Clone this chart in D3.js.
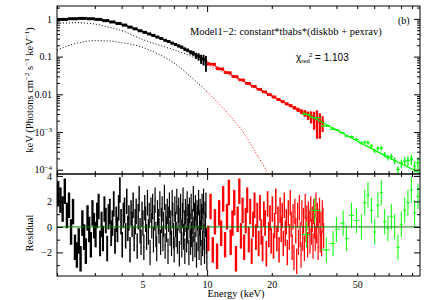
<!DOCTYPE html>
<html>
<head>
<meta charset="utf-8">
<script src="https://cdn.jsdelivr.net/npm/d3@7"></script>
<style>
  body { margin: 0; background: #fff; }
  text { font-family: "Liberation Serif", "DejaVu Serif", serif; fill: #000; }
</style>
</head>
<body>
<div id="chart"></div>
<script>
// model curves (keV, flux)
var modelE     = [2, 2.5, 3, 3.5, 4, 5, 6, 7, 8, 9, 10, 15, 20, 28, 35, 50, 70, 98];
var modelTotal = [0.94, 1.03, 1.0, 0.86, 0.72, 0.46, 0.31, 0.22, 0.152, 0.105, 0.073, 0.0213, 0.0091, 0.0033, 0.0017, 0.00058, 0.00021, 0.000082];
var modelPex   = [0.77, 0.79, 0.73, 0.6, 0.49, 0.285, 0.2, 0.152, 0.115, 0.086, 0.062, 0.0205, 0.0089, 0.00326, 0.00168, 0.00058, 0.00021, 0.000082];
var diskE      = [2, 2.5, 3, 3.5, 4, 5, 6, 7, 8, 10, 12, 15, 17, 19.5];
var diskFlux   = [0.15, 0.23, 0.265, 0.26, 0.235, 0.177, 0.113, 0.068, 0.037, 0.0117, 0.004, 0.00085, 0.00026, 0.00007];

// unfolded data (top panel)
var blkE    = [2.125, 2.375, 2.625, 2.875, 3.125, 3.375, 3.625, 3.875, 4.125, 4.375, 4.625, 4.875, 5.125, 5.375, 5.625, 5.875,
               6.125, 6.375, 6.625, 6.875, 7.125, 7.375, 7.625, 7.875, 8.125, 8.375, 8.625, 8.875, 9.125, 9.375, 9.625, 9.875];
var blkFlux = [0.97, 1.01, 1.03, 1.01, 0.97, 0.9, 0.83, 0.755, 0.685, 0.605, 0.545, 0.485, 0.44, 0.4, 0.365, 0.33,
               0.302, 0.27, 0.252, 0.228, 0.211, 0.192, 0.178, 0.158, 0.147, 0.131, 0.123, 0.107, 0.101, 0.088, 0.085, 0.072];
var blkRel  = [0.04, 0.04, 0.04, 0.04, 0.04, 0.04, 0.04, 0.04, 0.04, 0.04, 0.04, 0.05, 0.05, 0.05, 0.05, 0.05,
               0.06, 0.06, 0.06, 0.07, 0.07, 0.08, 0.09, 0.1, 0.11, 0.13, 0.15, 0.18, 0.22, 0.27, 0.32, 0.45];

var redE    = [10.5, 11.5, 12.5, 13.5, 14.5, 15.5, 16.5, 17.5, 18.5, 19.5, 20.5, 21.5, 22.5, 23.5, 24.5, 25.5,
               26.5, 27.5, 28.5, 29.5, 30.5, 31.5, 32.5, 33.5, 34.5];
var redFlux = [0.063, 0.0475, 0.0376, 0.0296, 0.0241, 0.0195, 0.0163, 0.0136, 0.0116, 0.0098, 0.0085, 0.0073, 0.0064, 0.0056, 0.0050, 0.0044,
               0.0039, 0.0035, 0.00318, 0.0028, 0.0026, 0.0023, 0.0022, 0.0019, 0.00182];
var redRel  = [0.05, 0.05, 0.05, 0.05, 0.05, 0.06, 0.06, 0.06, 0.07, 0.07, 0.08, 0.08, 0.09, 0.09, 0.1, 0.11,
               0.13, 0.15, 0.2, 0.25, 0.35, 0.5, 0.7, 0.65, 0.45];

var grnE    = [29.0, 31.7, 35.9, 38.6, 40.0, 43.0, 44.5, 47.0, 49.6, 52.3, 54.2, 56.1, 58.2, 60.3, 62.4, 64.7,
               67.1, 69.5, 72.1, 74.7, 77.4, 80.2, 83.2, 86.1, 89.3, 92.5, 95.9];
var grnFlux = [0.00292, 0.0024, 0.00144, 0.00119, 0.00113, 0.00094, 0.00078, 0.00075, 0.00063, 0.00051, 0.00054, 0.00052, 0.00043, 0.000315, 0.00037, 0.000377,
               0.000256, 0.000213, 0.000222, 0.000175, 0.000102, 0.000148, 0.000169, 0.000174, 0.00019, 0.000125, 0.000154];
var grnRel  = [0.04, 0.04, 0.05, 0.05, 0.06, 0.06, 0.07, 0.08, 0.09, 0.1, 0.1, 0.11, 0.12, 0.13, 0.14, 0.15,
               0.16, 0.17, 0.18, 0.2, 0.22, 0.24, 0.26, 0.28, 0.3, 0.33, 0.36];

// residuals (bottom panel), one row = 0.5 keV
var blkResE = [2.025, 2.075, 2.125, 2.175, 2.225, 2.275, 2.325, 2.375, 2.425, 2.475,
               2.525, 2.575, 2.625, 2.675, 2.725, 2.775, 2.825, 2.875, 2.925, 2.975,
               3.025, 3.075, 3.125, 3.175, 3.225, 3.275, 3.325, 3.375, 3.425, 3.475,
               3.525, 3.575, 3.625, 3.675, 3.725, 3.775, 3.825, 3.875, 3.925, 3.975,
               4.025, 4.075, 4.125, 4.175, 4.225, 4.275, 4.325, 4.375, 4.425, 4.475,
               4.525, 4.575, 4.625, 4.675, 4.725, 4.775, 4.825, 4.875, 4.925, 4.975,
               5.025, 5.075, 5.125, 5.175, 5.225, 5.275, 5.325, 5.375, 5.425, 5.475,
               5.525, 5.575, 5.625, 5.675, 5.725, 5.775, 5.825, 5.875, 5.925, 5.975,
               6.025, 6.075, 6.125, 6.175, 6.225, 6.275, 6.325, 6.375, 6.425, 6.475,
               6.525, 6.575, 6.625, 6.675, 6.725, 6.775, 6.825, 6.875, 6.925, 6.975,
               7.025, 7.075, 7.125, 7.175, 7.225, 7.275, 7.325, 7.375, 7.425, 7.475,
               7.525, 7.575, 7.625, 7.675, 7.725, 7.775, 7.825, 7.875, 7.925, 7.975,
               8.025, 8.075, 8.125, 8.175, 8.225, 8.275, 8.325, 8.375, 8.425, 8.475,
               8.525, 8.575, 8.625, 8.675, 8.725, 8.775, 8.825, 8.875, 8.925, 8.975,
               9.025, 9.075, 9.125, 9.175, 9.225, 9.275, 9.325, 9.375, 9.425, 9.475,
               9.525, 9.575, 9.625, 9.675, 9.725, 9.775, 9.825, 9.875, 9.925, 9.975];
var blkRes  = [2.6, 2.1, 1.4, 2.8, 0.9, 1.7, -0.4, 1.2, -1.6, -2.2,
               -1.1, -2.5, 0.3, -0.8, -1.9, 0.7, -0.2, -1.4, 1.1, 0.1,
               -0.6, 0.9, 1.6, -1.3, 0.2, -0.9, 1.4, 0.5, -1.7, 0.8,
               1.2, -0.5, 0.3, 1.8, -1.1, 0.6, -0.2, 1.5, 2.9, 0.4,
               -1.4, 0.9, 1.3, -0.7, 2.0, -0.1, 0.7, -1.8, 1.1, 0.2,
               1.7, -0.9, 0.4, 1.2, -1.5, 0.8, 2.2, -0.3, -1.2, 1.0,
               0.3, -1.6, 1.5, 0.6, -0.8, 1.9, -0.4, 0.9, -2.0, 1.3,
               0.1, 1.6, -1.0, 0.7, 2.1, -0.6, -1.7, 1.1, 0.4, -0.3,
               1.8, -1.2, 0.5, 1.4, -0.9, 0.2, 2.3, -1.5, 0.8, -0.2,
               1.2, -1.9, 0.6, 1.7, -0.5, 0.3, -1.3, 1.9, 0.9, -0.7,
               -1.8, 1.4, 0.2, -0.6, 2.0, -1.1, 0.7, 1.3, -2.1, 0.5,
               1.6, -0.4, -1.4, 0.9, 2.1, -0.8, 0.3, -1.9, 1.2, 0.6,
               -1.0, 1.8, -0.3, 0.8, -2.0, 1.3, 0.1, -1.2, 1.6, -0.6,
               0.4, -1.7, 2.2, -0.2, 0.9, -1.4, 1.5, 0.2, -2.2, 1.1,
               0.7, -0.9, 1.9, -1.6, 0.3, 1.2, -0.5, -2.0, 0.8, 1.6,
               -1.3, 0.5, 2.0, -0.8, -1.9, 1.0, 0.2, 1.7, -1.1, -2.4];

// one row = 2.5 keV
var redResE = [10.125, 10.375, 10.625, 10.875, 11.125, 11.375, 11.625, 11.875, 12.125, 12.375,
               12.625, 12.875, 13.125, 13.375, 13.625, 13.875, 14.125, 14.375, 14.625, 14.875,
               15.125, 15.375, 15.625, 15.875, 16.125, 16.375, 16.625, 16.875, 17.125, 17.375,
               17.625, 17.875, 18.125, 18.375, 18.625, 18.875, 19.125, 19.375, 19.625, 19.875,
               20.125, 20.375, 20.625, 20.875, 21.125, 21.375, 21.625, 21.875, 22.125, 22.375,
               22.625, 22.875, 23.125, 23.375, 23.625, 23.875, 24.125, 24.375, 24.625, 24.875,
               25.125, 25.375, 25.625, 25.875, 26.125, 26.375, 26.625, 26.875, 27.125, 27.375,
               27.625, 27.875, 28.125, 28.375, 28.625, 28.875, 29.125, 29.375, 29.625, 29.875,
               30.125, 30.375, 30.625, 30.875, 31.125, 31.375, 31.625, 31.875, 32.125, 32.375,
               32.625, 32.875, 33.125, 33.375, 33.625, 33.875, 34.125, 34.375, 34.625, 34.875];
var redRes  = [-0.9, 1.6, -1.8, 0.4, -2.3, 1.1, -0.5, 2.2, -1.4, 0.8,
               2.7, -1.2, 0.3, 1.9, -2.5, 0.6, 2.8, -0.7, 1.3, -1.6,
               0.5, 2.1, -1.0, 1.2, -1.9, 0.2, 1.7, -0.8, 0.9, -1.3,
               1.5, -0.4, -1.7, 1.0, 0.3, -2.1, 1.8, -0.6, 0.7, -1.1,
               1.4, -1.5, 0.1, 2.0, -0.9, 0.6, -1.8, 1.3, -0.2, 0.9,
               -1.3, 1.7, -0.5, 0.4, -2.0, 1.1, -0.8, 1.9, 0.2, -1.6,
               0.8, -2.4, 1.2, -0.3, -2.7, 0.9, -1.2, 1.5, -0.6, -2.2,
               1.1, -0.9, 0.5, -1.7, 1.6, -0.2, 0.7, -1.4, 1.0, 0.3,
               -1.1, 1.4, -0.4, 0.6, -1.5, 1.2, 0.1, -0.9, 1.7, -0.3,
               0.9, -1.6, 0.4, 1.3, -1.0, 0.2, -1.3, 1.1, 0.5, -0.7];

var grnRes  = [-0.6, 1.3, -1.8, -1.3, -0.2, 0.3, -0.9, 0.9, 0.5, 0.0, 1.9, 2.5, 1.3, -0.4, 1.7, 2.7,
               0.4, -0.1, 0.8, 0.0, -1.6, 0.2, 1.3, 1.9, 2.9, 1.1, 2.4];

var xLabels = [5, 10, 20, 50];
var xMinor  = [2, 3, 4, 5, 6, 7, 8, 9, 20, 30, 40, 50, 60, 70, 80, 90];
var xMajor  = [10];
var yMajor  = [1e-4, 1e-3, 0.01, 0.1, 1];
var yMinor  = [2e-4, 3e-4, 4e-4, 5e-4, 6e-4, 7e-4, 8e-4, 9e-4, 2e-3, 3e-3, 4e-3, 5e-3, 6e-3, 7e-3, 8e-3, 9e-3,
               0.02, 0.03, 0.04, 0.05, 0.06, 0.07, 0.08, 0.09, 0.2, 0.3, 0.4, 0.5, 0.6, 0.7, 0.8, 0.9, 2];
var rMajor  = [-2, 0, 2, 4];
var rMinor  = [-3, -1, 1, 3];

// layout
var margin = {top: 6, left: 57},
    width = 363,
    topH = 168,
    resH = 102;

var svg = d3.select("#chart").append("svg")
    .attr("width", 433)
    .attr("height", 300);

var x = d3.scaleLog().domain([2, 98]).range([0, width]);
var y = d3.scaleLog().domain([7.7e-5, 2.2]).range([topH, 0]);
var yr = d3.scaleLinear().domain([-3.85, 4.15]).range([resH, 0]);

svg.append("defs").append("clipPath").attr("id", "clipTop")
  .append("rect").attr("width", width).attr("height", topH);
svg.select("defs").append("clipPath").attr("id", "clipRes")
  .append("rect").attr("width", width).attr("height", resH);

var gTop = svg.append("g").attr("transform", "translate(" + margin.left + "," + margin.top + ")");
var gRes = svg.append("g").attr("transform", "translate(" + margin.left + "," + (margin.top + topH) + ")");

var pTop = gTop.append("g").attr("clip-path", "url(#clipTop)");
var pRes = gRes.append("g").attr("clip-path", "url(#clipRes)");

// bin edges from the centres
function binEdges(E, i) {
  var lo = i > 0 ? (E[i - 1] + E[i]) / 2 : E[0] - (E[1] - E[0]) / 2;
  var hi = i < E.length - 1 ? (E[i] + E[i + 1]) / 2 : E[i] + (E[i] - E[i - 1]) / 2;
  return [lo, hi];
}

function drawSpec(g, E, F, rel, color, sw) {
  var gg = g.append("g").attr("stroke", color).attr("fill", "none");
  E.forEach(function(e, i) {
    var b = binEdges(E, i);
    gg.append("line")
      .attr("x1", x(b[0])).attr("x2", x(b[1]))
      .attr("y1", y(F[i])).attr("y2", y(F[i]))
      .attr("stroke-width", sw);
    gg.append("line")
      .attr("x1", x(e)).attr("x2", x(e))
      .attr("y1", y(F[i] * (1 + rel[i])))
      .attr("y2", y(Math.max(F[i] * (1 - rel[i]), 1e-6)))
      .attr("stroke-width", Math.max(1, Math.min(sw, 0.8 * (x(b[1]) - x(b[0])))));
  });
}

// residual channels: +-1 sigma bars, a bit wider than the bin for dense data
function drawRes(g, E, R, color, dense) {
  var gg = g.append("g").attr("stroke", color).attr("fill", "none");
  E.forEach(function(e, i) {
    var b = binEdges(E, i);
    var w = x(b[1]) - x(b[0]);
    gg.append("line")
      .attr("x1", x(b[0])).attr("x2", x(b[1]))
      .attr("y1", yr(R[i])).attr("y2", yr(R[i]))
      .attr("stroke-width", 1);
    gg.append("line")
      .attr("x1", x(e)).attr("x2", x(e))
      .attr("y1", yr(R[i] + 1)).attr("y2", yr(R[i] - 1))
      .attr("stroke-width", dense ? Math.min(2.4, Math.max(1.2, w * 1.4)) : 1);
  });
}

var line = d3.line()
  .x(function(d) { return x(d[0]); })
  .y(function(d) { return y(d[1]); })
  .curve(d3.curveMonotoneX);

function segment(E, F, lo, hi) {
  var pts = [];
  E.forEach(function(e, i) { if (e >= lo && e <= hi) pts.push([e, F[i]]); });
  return pts;
}

// model components (dotted)
[[diskE, diskFlux], [modelE, modelPex]].forEach(function(c) {
  [[2, 10, "#000"], [10, 35, "#ff0000"], [35, 98, "#00ff00"]].forEach(function(s) {
    pTop.append("path")
      .datum(segment(c[0], c[1], s[0], s[1]))
      .attr("d", line)
      .attr("fill", "none")
      .attr("stroke", s[2])
      .attr("stroke-width", 1)
      .attr("stroke-dasharray", "1,2");
  });
});

// data
drawSpec(pTop, blkE, blkFlux, blkRel, "#000", 3);
drawSpec(pTop, redE, redFlux, redRel, "#ff0000", 2.6);
drawSpec(pTop, grnE, grnFlux, grnRel, "#00ff00", 1.3);

// total model
[[2, 10, "#000"], [10, 35, "#ff0000"], [28, 98, "#00ff00"]].forEach(function(s) {
  pTop.append("path")
    .datum(segment(modelE, modelTotal, s[0], s[1]))
    .attr("d", line)
    .attr("fill", "none")
    .attr("stroke", s[2])
    .attr("stroke-width", 1.2);
});

// residuals
drawRes(pRes, blkResE, blkRes, "#000", true);
drawRes(pRes, redResE, redRes, "#ff0000", true);
drawRes(pRes, grnE, grnRes, "#00ff00", false);

pRes.append("line")
  .attr("x1", 0).attr("x2", width)
  .attr("y1", yr(0)).attr("y2", yr(0))
  .attr("stroke", "#008800").attr("stroke-width", 1);

// axes: ticks point inward on all sides
function ticks(g, axis, vals, len, fmt) {
  var a = g.append("g").call(axis.tickValues(vals).tickSize(-len).tickPadding(5).tickFormat(fmt || function() { return ""; }));
  a.select(".domain").remove();
  a.selectAll("line").attr("stroke", "#000");
  a.selectAll("text").attr("font-size", "10px").attr("font-family", "Liberation Serif, serif");
  return a;
}

// top panel
ticks(gTop.append("g"), d3.axisTop(x), xMinor, 3);
ticks(gTop.append("g"), d3.axisTop(x), xMajor, 6);
ticks(gTop.append("g").attr("transform", "translate(0," + topH + ")"), d3.axisBottom(x), xMinor, 3);
ticks(gTop.append("g").attr("transform", "translate(0," + topH + ")"), d3.axisBottom(x), xMajor, 6);
ticks(gTop.append("g"), d3.axisLeft(y), yMinor, 3);
var yl = ticks(gTop.append("g"), d3.axisLeft(y), yMajor, 6, function(d) { return d >= 0.01 ? String(d) : "10"; });
yl.selectAll(".tick text").each(function(d) {
  if (d < 0.01) {
    d3.select(this).append("tspan")
      .attr("dy", "-0.5em")
      .attr("font-size", "7px")
      .text("\u2212" + Math.round(-Math.log10(d)));
  }
});
ticks(gTop.append("g").attr("transform", "translate(" + width + ",0)"), d3.axisRight(y), yMinor, 3);
ticks(gTop.append("g").attr("transform", "translate(" + width + ",0)"), d3.axisRight(y), yMajor, 6);

// residual panel
ticks(gRes.append("g"), d3.axisTop(x), xMinor, 3);
ticks(gRes.append("g"), d3.axisTop(x), xMajor, 6);
ticks(gRes.append("g").attr("transform", "translate(0," + resH + ")"), d3.axisBottom(x), xMinor, 3,
      function(d) { return xLabels.indexOf(d) >= 0 ? d : ""; });
ticks(gRes.append("g").attr("transform", "translate(0," + resH + ")"), d3.axisBottom(x), xMajor, 6,
      function(d) { return d; });
ticks(gRes.append("g"), d3.axisLeft(yr), rMinor, 3);
ticks(gRes.append("g"), d3.axisLeft(yr), rMajor, 6, d3.format("d"));
ticks(gRes.append("g").attr("transform", "translate(" + width + ",0)"), d3.axisRight(yr), rMinor, 3);
ticks(gRes.append("g").attr("transform", "translate(" + width + ",0)"), d3.axisRight(yr), rMajor, 6);

// frames
[gTop, gRes].forEach(function(g, i) {
  g.append("rect")
    .attr("width", width)
    .attr("height", i === 0 ? topH : resH)
    .attr("fill", "none")
    .attr("stroke", "#000")
    .attr("stroke-width", 1);
});

// texts
svg.append("text")
  .attr("x", 190).attr("y", 35)
  .attr("font-size", "10.5px")
  .text("Model1\u22122: constant*tbabs*(diskbb + pexrav)");

svg.append("text")
  .attr("x", 398).attr("y", 24)
  .attr("font-size", "10px")
  .text("(b)");

var chi = svg.append("text")
  .attr("x", 296).attr("y", 61)
  .attr("font-size", "10px")
  .style("font-family", "Liberation Sans, sans-serif");
chi.append("tspan").text("\u03c7");
chi.append("tspan").attr("font-size", "6px").attr("dy", "2").text("red");
chi.append("tspan").attr("font-size", "6px").attr("dy", "-6").attr("dx", "-1").text("2");
chi.append("tspan").attr("dy", "4").text(" = 1.103");

var yt = svg.append("text")
  .attr("transform", "translate(33,90) rotate(-90)")
  .attr("text-anchor", "middle")
  .attr("font-size", "10.5px");
yt.append("tspan").text("keV (Photons cm");
yt.append("tspan").attr("font-size", "7px").attr("dy", "-4").text("\u22122");
yt.append("tspan").attr("dy", "4").text(" s");
yt.append("tspan").attr("font-size", "7px").attr("dy", "-4").text("\u22121");
yt.append("tspan").attr("dy", "4").text(" keV");
yt.append("tspan").attr("font-size", "7px").attr("dy", "-4").text("\u22121");
yt.append("tspan").attr("dy", "4").text(")");

svg.append("text")
  .attr("transform", "translate(33,233) rotate(-90)")
  .attr("text-anchor", "middle")
  .attr("font-size", "10.5px")
  .text("Residual");

svg.append("text")
  .attr("x", 236).attr("y", 297)
  .attr("text-anchor", "middle")
  .attr("font-size", "10.5px")
  .text("Energy (keV)");
</script>
</body>
</html>
